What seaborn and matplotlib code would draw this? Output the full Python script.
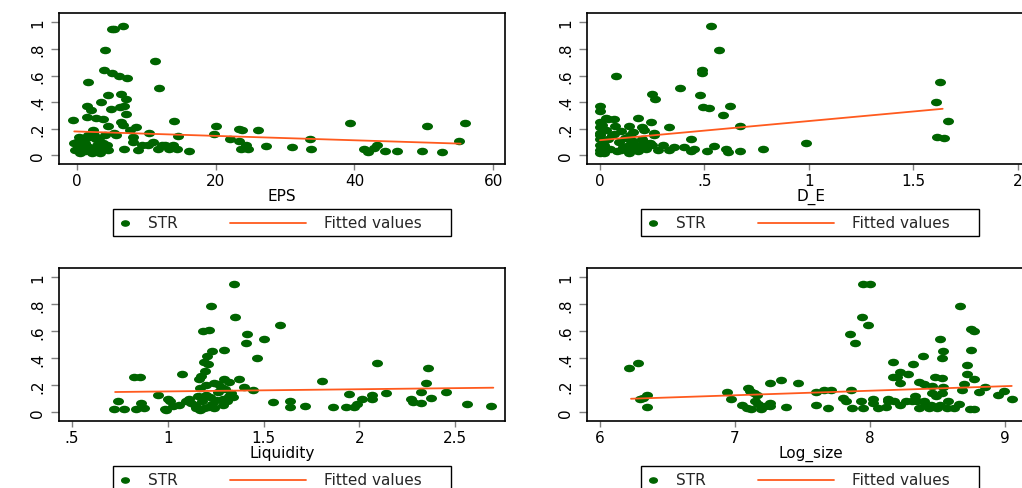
import numpy as np
import pandas as pd
import matplotlib
matplotlib.use("Agg")
import matplotlib.pyplot as plt
import seaborn as sns
from matplotlib.path import Path
from matplotlib.patches import Rectangle
from matplotlib.lines import Line2D

# STR against four firm variables
eps_x = [-0.6, 5.0, 5.4, 6.6, 4.1, 11.2, 3.9, 5.1, 6.1, 7.2, 1.6, 11.8, 4.4, 6.3, 7.1, 3.5, 1.5, 2.0,
         4.9, 6.2, 6.8, 7.0, 1.4, 2.7, 3.7, 6.3, 14.0, 39.4, 56.0, 50.5, 20.1, 4.4, 6.6, 8.5, 23.3,
         23.8, 26.1, 2.3, 7.6, 19.8, 10.4, 5.4, 14.5, 8.0, 22.1, 33.6, 55.0, 23.4, 24.4, 43.2, 42.8,
         27.3, 31.0, 23.7, 24.6, 33.8, 41.4, 42.0, 44.4, 46.2, 49.8, 52.6, 16.1, 14.4, 13.9, 12.7,
         11.7, 11.0, 10.2, 9.3, 8.8, 8.0, 6.8, 5.6, 4.4, 4.3, 12.2, 13.2,
         0.0, 0.2, 0.5, 0.8, 1.0, 1.2, 1.5, 1.8, 2.0, 2.3, 2.6, 2.9, 3.2, 3.5, 0.3, 0.6, 1.1, 1.6,
         2.2, 2.8, 3.0, 0.4, 1.3, 2.5, 0.9, 3.8, 4.0, 0.1, -0.5, -0.3, 0.7, 3.3]
eps_y = [0.266, 0.95, 0.95, 0.97, 0.79, 0.71, 0.64, 0.62, 0.60, 0.58, 0.55, 0.51, 0.455, 0.46, 0.42,
         0.40, 0.37, 0.34, 0.35, 0.365, 0.37, 0.31, 0.29, 0.28, 0.27, 0.25, 0.256, 0.244, 0.24, 0.22,
         0.224, 0.22, 0.23, 0.21, 0.20, 0.19, 0.19, 0.19, 0.19, 0.16, 0.17, 0.17, 0.145, 0.14, 0.125,
         0.12, 0.105, 0.105, 0.08, 0.075, 0.055, 0.07, 0.062, 0.045, 0.045, 0.045, 0.045, 0.025, 0.03,
         0.03, 0.035, 0.022, 0.032, 0.045, 0.075, 0.075, 0.045, 0.10, 0.075, 0.08, 0.037, 0.10, 0.05,
         0.15, 0.037, 0.075, 0.075, 0.05,
         0.10, 0.06, 0.04, 0.08, 0.12, 0.03, 0.07, 0.14, 0.05, 0.16, 0.03, 0.08, 0.13, 0.05, 0.14,
         0.11, 0.09, 0.15, 0.02, 0.12, 0.04, 0.02, 0.05, 0.15, 0.03, 0.09, 0.15, 0.07, 0.09, 0.04,
         0.13, 0.02]

de_x = [0.53, 0.568, 0.487, 0.487, 0.077, 1.626, 0.384, 0.25, 0.48, 0.263, 1.61, 0.0, 0.0, 0.495,
        0.524, 0.624, 0.589, 0.03, 0.065, 0.182, 0.242, 1.666, 0.67, 0.137, 0.33, 0.2, 0.0, 0.0,
        0.0, 0.0, 0.0, 0.0, 0.065, 0.26, 0.26, 0.145, 0.16, 1.613, 1.645, 0.435, 0.21, 0.25, 0.984,
        0.548, 0.3, 0.355, 0.403, 0.45, 0.33, 0.435, 0.51, 0.605, 0.613, 0.669, 0.78,
        0.02, 0.05, 0.08, 0.11, 0.14, 0.17, 0.19, 0.04, 0.09, 0.12, 0.03, 0.07, 0.1, 0.15, 0.18,
        0.22, 0.06, 0.01, 0.13, 0.2, 0.24, 0.02, 0.1, 0.16, 0.28, 0.0, 0.0, 0.04, 0.21, 0.15]
de_y = [0.97, 0.79, 0.645, 0.62, 0.60, 0.55, 0.51, 0.46, 0.455, 0.42, 0.40, 0.37, 0.335, 0.36,
        0.353, 0.37, 0.306, 0.28, 0.27, 0.28, 0.25, 0.26, 0.22, 0.22, 0.21, 0.21, 0.25, 0.21,
        0.17, 0.12, 0.075, 0.037, 0.16, 0.17, 0.15, 0.15, 0.175, 0.14, 0.13, 0.125, 0.10, 0.075,
        0.09, 0.067, 0.075, 0.062, 0.062, 0.05, 0.037, 0.03, 0.03, 0.05, 0.025, 0.03, 0.05,
        0.08, 0.05, 0.03, 0.06, 0.02, 0.05, 0.08, 0.12, 0.10, 0.13, 0.19, 0.22, 0.04, 0.09, 0.03,
        0.05, 0.15, 0.23, 0.07, 0.12, 0.09, 0.02, 0.18, 0.11, 0.04, 0.02, 0.15, 0.27, 0.19, 0.04]

liq_x = [1.347, 1.226, 1.352, 1.587, 1.186, 1.214, 1.413, 1.5, 1.408, 1.295, 1.23, 1.203, 1.465,
         1.19, 1.21, 2.09, 2.36, 1.197, 1.075, 0.826, 0.856, 1.176, 1.165, 1.295, 1.373, 1.804,
         2.35, 1.243, 1.26, 1.32, 1.396, 1.443, 2.32, 2.455, 2.14, 1.946, 0.948, 2.065, 2.065,
         2.016, 2.27, 2.372, 1.0, 1.01, 1.113, 1.095, 1.286, 1.32, 0.74, 0.86, 1.547, 1.637, 2.28,
         2.32, 1.99, 2.56, 1.06, 1.026, 1.715, 2.69, 1.64, 1.865, 1.93, 1.973, 0.719, 0.77, 0.832,
         0.878, 0.983, 0.99,
         1.15, 1.17, 1.19, 1.21, 1.14, 1.23, 1.25, 1.29, 1.16, 1.18, 1.2, 1.22, 1.26, 1.3, 1.33,
         1.31, 1.17, 1.2, 1.28, 1.24, 1.34, 1.12]
liq_y = [0.95, 0.79, 0.71, 0.646, 0.60, 0.61, 0.58, 0.54, 0.51, 0.46, 0.455, 0.42, 0.40, 0.37,
         0.357, 0.364, 0.33, 0.307, 0.284, 0.26, 0.26, 0.27, 0.245, 0.245, 0.245, 0.232, 0.22,
         0.22, 0.207, 0.227, 0.19, 0.165, 0.15, 0.15, 0.14, 0.132, 0.125, 0.127, 0.10, 0.10, 0.10,
         0.107, 0.10, 0.08, 0.10, 0.087, 0.10, 0.12, 0.082, 0.067, 0.077, 0.082, 0.077, 0.072,
         0.062, 0.06, 0.052, 0.045, 0.045, 0.047, 0.04, 0.04, 0.04, 0.037, 0.027, 0.027, 0.022,
         0.035, 0.027, 0.015,
         0.03, 0.02, 0.03, 0.04, 0.05, 0.06, 0.09, 0.05, 0.12, 0.08, 0.13, 0.11, 0.15, 0.17, 0.14,
         0.08, 0.18, 0.20, 0.19, 0.03, 0.11, 0.07]

size_x = [6.217, 6.284, 6.30, 6.345, 6.32, 6.345, 6.94, 6.97, 7.05, 7.1, 7.11, 7.14, 7.16, 7.15,
          7.17, 7.09, 7.12, 7.19, 7.22, 7.26, 7.26, 7.26, 7.34, 7.38, 7.47, 7.6, 7.66, 7.71, 7.6,
          7.69, 7.8, 7.82, 7.86, 7.85, 7.89, 7.94, 7.985, 7.95, 8.0, 7.87, 7.95, 8.02, 8.06, 7.93,
          8.02, 8.12, 8.13, 8.17, 8.17, 8.2, 8.22, 8.22, 8.28, 8.32, 8.39, 8.36, 8.4, 8.33, 8.35,
          8.36, 8.41, 8.44, 8.46, 8.48, 8.53, 8.54, 8.53, 8.46, 8.49, 8.52, 8.54, 8.53, 8.67, 8.75,
          8.77, 8.75, 8.72, 8.72, 8.7, 8.77, 8.685, 8.81, 8.85, 8.95, 8.99, 9.05, 8.74, 8.77, 8.66,
          8.62, 8.57, 8.58, 8.52, 8.5, 8.45, 8.13, 8.18, 8.22, 8.27, 8.31, 8.4]
size_y = [0.33, 0.364, 0.10, 0.13, 0.107, 0.037, 0.15, 0.10, 0.05, 0.18, 0.155, 0.145, 0.127,
          0.082, 0.062, 0.032, 0.025, 0.027, 0.045, 0.067, 0.045, 0.217, 0.24, 0.037, 0.217, 0.147,
          0.167, 0.162, 0.05, 0.032, 0.107, 0.087, 0.165, 0.58, 0.51, 0.706, 0.646, 0.948, 0.948,
          0.032, 0.032, 0.07, 0.032, 0.082, 0.095, 0.037, 0.082, 0.37, 0.26, 0.26, 0.30, 0.22,
          0.28, 0.36, 0.42, 0.227, 0.207, 0.12, 0.082, 0.032, 0.057, 0.032, 0.195, 0.26, 0.255,
          0.187, 0.145, 0.145, 0.12, 0.54, 0.456, 0.40, 0.79, 0.62, 0.60, 0.46, 0.35, 0.28, 0.21,
          0.25, 0.165, 0.152, 0.19, 0.127, 0.155, 0.095, 0.025, 0.025, 0.062, 0.032, 0.032, 0.082,
          0.057, 0.032, 0.057, 0.095, 0.082, 0.057, 0.082, 0.082, 0.082]

# fitted-value lines (end points)
eps_fit_x, eps_fit_y = [-0.4, 55.3], [0.18, 0.088]
de_fit_x, de_fit_y = [0.0, 1.64], [0.114, 0.35]
liq_fit_x, liq_fit_y = [0.725, 2.70], [0.15, 0.182]
size_fit_x, size_fit_y = [6.23, 9.05], [0.10, 0.195]

y_ticks = [0, 0.2, 0.4, 0.6, 0.8, 1.0]
y_ticklabels = ["0", ".2", ".4", ".6", ".8", "1"]

sns.set_theme(style="white")
plt.rcParams['font.family'] = ['DejaVu Sans']

GREEN = "#006400"
ORANGE = "#ff5a1e"
W, H = 1022, 489

# flattened dot, like the stretched Stata markers
circ = Path.unit_circle()
ell = Path(circ.vertices * [1, 0.68], circ.codes)


def rect(l, t, r, b):
    return [l / W, 1 - b / H, (r - l) / W, (b - t) / H]


def stata_legend(fig, left, top):
    tr = fig.transFigure
    fig.patches.append(Rectangle((left / W, 1 - (top + 27) / H), 338 / W, 27 / H, transform=tr,
                                 fill=False, edgecolor="black", linewidth=1.0))
    yc = 1 - (top + 13.5) / H
    fig.add_artist(Line2D([(left + 12) / W], [yc], marker=ell, markersize=5.5, color=GREEN,
                          linestyle="none", transform=tr))
    fig.text((left + 35) / W, yc, "STR", va="center", ha="left", fontsize=11)
    fig.add_artist(Line2D([(left + 117) / W, (left + 193) / W], [yc, yc], color=ORANGE, lw=1.3,
                          transform=tr))
    fig.text((left + 211) / W, yc, "Fitted values", va="center", ha="left", fontsize=11)


panels = [
    (eps_x, eps_y, eps_fit_x, eps_fit_y, "EPS", (-2.6, 61.7), [0, 20, 40, 60],
     ["0", "20", "40", "60"], (59, 14, 505, 165), (113, 210)),
    (de_x, de_y, de_fit_x, de_fit_y, "D_E", (-0.062, 2.077), [0, 0.5, 1, 1.5, 2],
     ["0", ".5", "1", "1.5", "2"], (587, 14, 1034, 165), (641, 210)),
    (liq_x, liq_y, liq_fit_x, liq_fit_y, "Liquidity", (0.432, 2.761), [0.5, 1, 1.5, 2, 2.5],
     [".5", "1", "1.5", "2", "2.5"], (59, 269, 505, 422), (113, 467)),
    (size_x, size_y, size_fit_x, size_fit_y, "Log_size", (5.904, 9.215), [6, 7, 8, 9],
     ["6", "7", "8", "9"], (587, 269, 1034, 422), (641, 467)),
]

fig = plt.figure(figsize=(W / 100, H / 100), dpi=100, facecolor="white")

for xs, ys, fx, fy, name, xlim, xt, xtl, box, leg in panels:
    ax = fig.add_axes(rect(*box))
    df = pd.DataFrame({name: xs, "STR": ys})
    fit = pd.DataFrame({name: fx, "Fitted values": fy})
    sns.scatterplot(data=df, x=name, y="STR", ax=ax, color=GREEN, marker=ell, s=63,
                    linewidth=0, zorder=2)
    sns.lineplot(data=fit, x=name, y="Fitted values", ax=ax, color=ORANGE, lw=1.3, zorder=3)
    ax.set_xlim(*xlim)
    ax.set_ylim(-0.065, 1.07)
    ax.set_xticks(xt)
    ax.set_xticklabels(xtl)
    ax.set_yticks(y_ticks)
    ax.set_yticklabels(y_ticklabels, rotation=90, va="center")
    ax.tick_params(axis="x", bottom=True, direction="out", length=4.5, width=1,
                   color="#808080", pad=2, labelsize=11, labelcolor="black")
    ax.tick_params(axis="y", left=True, direction="out", length=6, width=1,
                   color="#808080", pad=4, labelsize=11, labelcolor="black")
    ax.set_xlabel(name, fontsize=11, labelpad=0, color="black")
    ax.set_ylabel("")
    for sp in ax.spines.values():
        sp.set_color("black")
        sp.set_linewidth(1.2)
    ax.set_facecolor("white")
    stata_legend(fig, *leg)

fig.savefig("out.png", dpi=100, facecolor="white")
